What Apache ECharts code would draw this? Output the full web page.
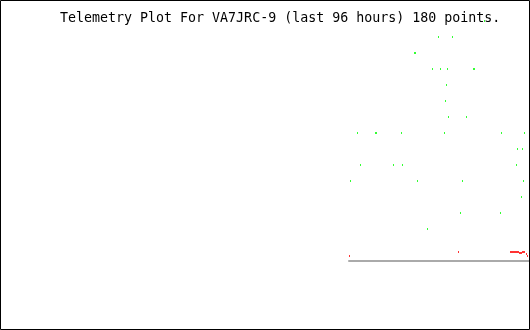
<!DOCTYPE html>
<html>
<head>
<meta charset="utf-8">
<script src="https://cdn.jsdelivr.net/npm/echarts@6/dist/echarts.min.js"></script>
<style>
html,body{margin:0;padding:0;background:#fff;}
#chart{width:530px;height:330px;}
</style>
</head>
<body>
<div id="chart"></div>
<script>
// Sample index (0..179) and level of each green telemetry point
const greenIndex = [89,103,65,66,83,91,98,124,125,97,96,99,117,8,26,27,52,95,152,175,168,173,11,44,53,167,1,68,113,174,172,111,151,78,135];
const greenLevel = [14,14,13,13,12,12,12,12,12,11,10,9,9,8,8,8,8,8,8,8,7,7,6,6,6,6,5,5,5,5,4,3,3,2,15];
// Red telemetry series
const redIndex = [0,109,161,162,163,164,165,166,167,168,169,170,171,172,173,174,175,177,178];
const redValue = [5,9,9,9,9,9,9,9,9,9,9,8,8,8,9,9,9,7,5];
const titleText = 'Telemetry Plot For VA7JRC-9 (last 96 hours) 180 points.';

const greenData = greenIndex.map((x, i) => [x, greenLevel[i]]);
const redData = redIndex.map((x, i) => [x, redValue[i]]);

const chart = echarts.init(document.getElementById('chart'), null, {renderer: 'canvas'});
chart.setOption({
  animation: false,
  backgroundColor: '#ffffff',
  grid: {left: 349, width: 180, top: 5, height: 256, containLabel: false},
  xAxis: {
    type: 'value', min: -0.5, max: 179.5,
    axisLine: {show: true, onZero: false, lineStyle: {color: '#aaaaaa', width: 2}},
    axisTick: {show: false}, axisLabel: {show: false}, splitLine: {show: false}
  },
  yAxis: [
    {type: 'value', min: 0, max: 16, show: false, splitLine: {show: false}},
    {type: 'value', min: 0, max: 256, show: false, splitLine: {show: false}}
  ],
  series: [
    {type: 'scatter', data: greenData, yAxisIndex: 0, symbol: 'rect', symbolSize: [1, 2],
     itemStyle: {color: '#00ff00'}, silent: true, z: 3},
    {type: 'scatter', data: redData, yAxisIndex: 1, symbol: 'rect', symbolSize: [1, 2],
     itemStyle: {color: '#ff0000'}, silent: true, z: 3}
  ],
  graphic: [
    {type: 'rect', shape: {x: 0.5, y: 0.5, width: 529, height: 329},
     style: {fill: null, stroke: '#000000', lineWidth: 1}, silent: true, z: 10},
    {type: 'text', x: 60, y: 25, z: 1,
     style: {text: titleText, fill: '#000000', font: '13.3px "DejaVu Sans Mono"', verticalAlign: 'bottom', align: 'left'}}
  ]
});
</script>
</body>
</html>
